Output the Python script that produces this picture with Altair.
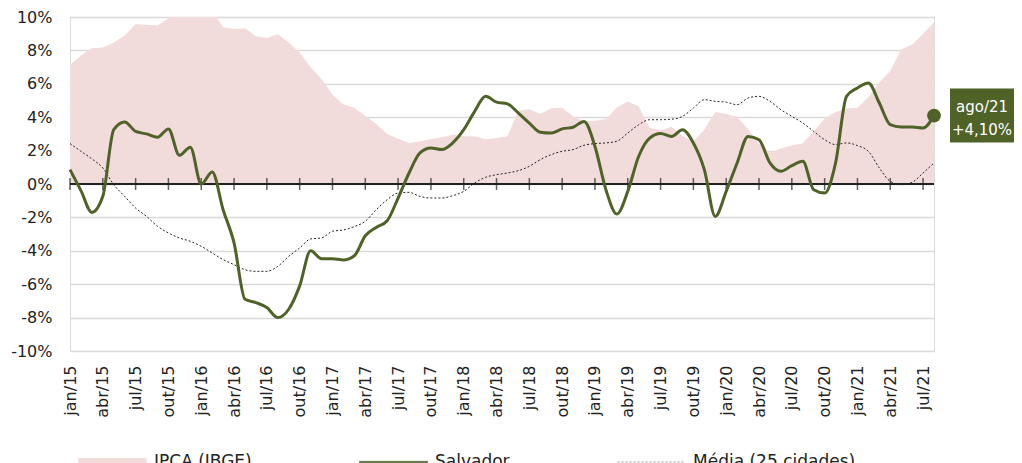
import json
import altair as alt
import pandas as pd

# ---------------- data ----------------
meses_nome = ["jan", "fev", "mar", "abr", "mai", "jun", "jul", "ago", "set", "out", "nov", "dez"]
anos = ["15", "16", "17", "18", "19", "20", "21"]

rotulos_eixo_x = ["jan/15", "abr/15", "jul/15", "out/15", "jan/16", "abr/16", "jul/16", "out/16",
                  "jan/17", "abr/17", "jul/17", "out/17", "jan/18", "abr/18", "jul/18", "out/18",
                  "jan/19", "abr/19", "jul/19", "out/19", "jan/20", "abr/20", "jul/20", "out/20",
                  "jan/21", "abr/21", "jul/21"]

rotulos_eixo_y = [-10, -8, -6, -4, -2, 0, 2, 4, 6, 8, 10]

ipca = [7.14, 7.70, 8.13, 8.17, 8.47, 8.89, 9.56, 9.53, 9.49, 9.93, 10.48, 10.67,
        10.71, 10.36, 9.39, 9.28, 9.32, 8.84, 8.74, 8.97, 8.48, 7.87, 6.99, 6.29,
        5.35, 4.76, 4.57, 4.08, 3.60, 3.00, 2.71, 2.46, 2.54, 2.70, 2.80, 2.95,
        2.86, 2.84, 2.68, 2.76, 2.86, 4.39, 4.48, 4.19, 4.53, 4.56, 4.05, 3.75,
        3.78, 3.89, 4.58, 4.94, 4.66, 3.37, 3.22, 3.43, 2.89, 2.54, 3.27, 4.31,
        4.19, 4.01, 3.30, 2.40, 1.88, 2.13, 2.31, 2.44, 3.14, 3.92, 4.31, 4.52,
        4.56, 5.20, 6.10, 6.76, 8.06, 8.35, 8.99, 9.68]

salvador = [0.86, -0.40, -1.70, -0.74, 3.25, 3.71, 3.15, 3.00, 2.80, 3.30, 1.72, 2.20,
            0.00, 0.72, -1.54, -3.53, -6.90, -7.10, -7.40, -8.00, -7.50, -6.10, -4.00, -4.47,
            -4.47, -4.55, -4.30, -3.10, -2.60, -2.20, -0.84, 0.66, 1.86, 2.16, 2.06, 2.46,
            3.25, 4.35, 5.25, 4.90, 4.80, 4.25, 3.65, 3.10, 3.05, 3.30, 3.40, 3.75,
            2.25, -0.34, -1.80, -0.44, 1.66, 2.75, 3.03, 2.85, 3.25, 2.46, 0.86, -1.94,
            -0.44, 1.26, 2.85, 2.65, 1.26, 0.76, 1.10, 1.36, -0.34, -0.54, 1.26, 5.25,
            5.75, 6.05, 4.85, 3.55, 3.41, 3.41, 3.35, 4.10]

media = [2.42, 1.96, 1.50, 0.96, -0.04, -0.74, -1.44, -1.94, -2.53, -2.93, -3.23, -3.43,
         -3.73, -4.13, -4.53, -4.83, -5.13, -5.23, -5.23, -4.93, -4.33, -3.83, -3.29, -3.23,
         -2.83, -2.75, -2.55, -2.23, -1.54, -0.94, -0.54, -0.50, -0.74, -0.84, -0.84, -0.70,
         -0.44, 0.06, 0.40, 0.56, 0.66, 0.80, 1.06, 1.46, 1.76, 1.96, 2.06, 2.32,
         2.42, 2.46, 2.56, 3.05, 3.55, 3.85, 3.85, 3.88, 4.05, 4.55, 5.05, 4.95,
         4.90, 4.75, 5.15, 5.25, 4.95, 4.45, 4.05, 3.65, 3.15, 2.65, 2.36, 2.46,
         2.30, 1.96, 0.96, 0.16, -0.04, 0.10, 0.66, 1.26]

series = ["IPCA (IBGE)", "Salvador", "Média (25 cidades)"]

# ---------------- styles ----------------
FONT = "DejaVu Sans"
GREEN = "#4f6228"
PINK = "#f2dcdb"
DARK = "#222222"

n = len(ipca)
mes = [f"{meses_nome[k % 12]}/{anos[k // 12]}" for k in range(n)]
df = pd.DataFrame({"i": list(range(n)), "mes": mes, "ipca": ipca,
                   "salvador": salvador, "media": media})

tick_pos = [k * 3 for k in range(len(rotulos_eixo_x))]
ticks_df = pd.DataFrame({"i": tick_pos})
ultimo = df.iloc[[-1]].copy()
ultimo["rotulo"] = ultimo["mes"] + "\n+" + ultimo["salvador"].map(lambda v: f"{v:.2f}".replace(".", ",")) + "%"
legenda_df = pd.DataFrame({"serie": series, "i": [0, 0, 0], "v": [-50, -50, -50]})

x_scale = alt.Scale(domain=[0, n - 1], nice=False, zero=False)
y_scale = alt.Scale(domain=[-10, 10], nice=False)

x_axis = alt.Axis(values=tick_pos,
                  labelExpr=f"{json.dumps(rotulos_eixo_x)}[round(datum.value / 3)]",
                  labelAngle=-90, labelAlign="right", labelBaseline="middle",
                  labelPadding=14, labelFont=FONT, labelFontSize=16, labelColor=DARK,
                  domain=False, ticks=False, grid=False, title=None, labelOverlap=False)
y_axis = alt.Axis(values=rotulos_eixo_y, tickCount=len(rotulos_eixo_y),
                  labelExpr="datum.value + '%'",
                  labelPadding=18, labelFont=FONT, labelFontSize=16, labelColor=DARK,
                  domain=False, ticks=False, grid=True, gridColor="#d9d9d9", gridWidth=1.5,
                  title=None, labelOverlap=False)


def X(field="i"):
    return alt.X(f"{field}:Q", scale=x_scale, axis=x_axis, title=None)


def Y(field):
    return alt.Y(f"{field}:Q", scale=y_scale, axis=y_axis, title=None)


base = alt.Chart(df)

area = base.mark_area(color=PINK, clip=True, opacity=1).encode(x=X(), y=Y("ipca"))

zero_rule = alt.Chart(ticks_df).mark_rule(color=DARK, strokeWidth=1.5).encode(
    y=alt.YDatum(0, scale=y_scale, axis=y_axis))

ticks = alt.Chart(ticks_df).mark_tick(orient="vertical", size=12, thickness=1.5, color=DARK).encode(
    x=X(), y=alt.YDatum(0, scale=y_scale, axis=y_axis))

media_line = base.mark_line(color=DARK, strokeWidth=1, strokeDash=[2, 2],
                            interpolate="monotone").encode(x=X(), y=Y("media"))

salv_line = base.mark_line(color=GREEN, strokeWidth=3, interpolate="monotone").encode(
    x=X(), y=Y("salvador"))

dot = alt.Chart(ultimo).mark_circle(color=GREEN, size=190, opacity=1).encode(x=X(), y=Y("salvador"))

box = alt.Chart(ultimo).mark_rect(color=GREEN, xOffset=16, x2Offset=100,
                                  yOffset=-27, y2Offset=27).encode(
    x=X(), x2="i", y=Y("salvador"), y2="salvador")

txt = alt.Chart(ultimo).mark_text(color="white", font=FONT, fontSize=15, lineBreak="\n",
                                  lineHeight=23, align="center", baseline="middle",
                                  dx=48, dy=-9).encode(x=X(), y=Y("salvador"), text="rotulo")

legend = alt.Legend(title=None, orient="none", legendX=8, legendY=410.5, direction="horizontal",
                    columns=3, columnPadding=106, gridAlign="none", labelFont=FONT,
                    labelFontSize=17, labelColor=DARK, labelOffset=7, symbolSize=4624,
                    labelLimit=300)
rect_path = "M-1,-0.11H1V0.11H-1Z"
thin_rect_path = "M-1,-0.022H1V0.022H-1Z"
line_path = "M-1,0H1"
leg_layer = alt.Chart(legenda_df).mark_point(opacity=1, size=4624, clip=True).encode(
    x=X(), y=Y("v"),
    shape=alt.Shape("serie:N", scale=alt.Scale(domain=series, range=[rect_path, thin_rect_path, line_path]), legend=legend),
    fill=alt.Fill("serie:N", scale=alt.Scale(domain=series, range=[PINK, GREEN, "transparent"]), legend=legend),
    stroke=alt.Stroke("serie:N", scale=alt.Scale(domain=series, range=[PINK, GREEN, DARK]), legend=legend),
    strokeDash=alt.StrokeDash("serie:N", scale=alt.Scale(domain=series, range=[[1, 0], [1, 0], [2, 2]]), legend=legend),
    strokeWidth=alt.StrokeWidth("serie:O", scale=alt.Scale(domain=series, range=[0.5, 0.5, 1]), legend=legend),
)

chart = alt.layer(area, zero_rule, ticks, media_line, salv_line, dot, box, txt, leg_layer).properties(
    width=864, height=334,
    padding={"left": 62, "top": 9, "right": 80, "bottom": 112},
    autosize=alt.AutoSizeParams(type="none"),
).configure_view(stroke=None).configure(font=FONT)

chart.save("out.html", embed_options={"renderer": "svg", "actions": False})
